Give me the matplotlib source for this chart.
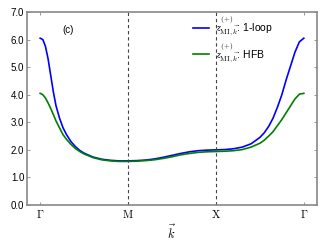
import numpy as np
import matplotlib
matplotlib.use('Agg')
import matplotlib.pyplot as plt

plt.rcParams['mathtext.fontset'] = 'cm'
plt.rcParams['font.family'] = ['Liberation Sans', 'DejaVu Sans']

# valores, por trecho (t = fracao do trecho)
t_gm = [0, 0.03, 0.06, 0.09, 0.12, 0.15, 0.18, 0.22, 0.26, 0.30, 0.35, 0.40, 0.45, 0.50, 0.60, 0.70, 0.80, 0.90, 1.0]
loop_gm = [6.05, 6.0, 5.75, 5.3, 4.7, 4.1, 3.6, 3.15, 2.8, 2.55, 2.3, 2.12, 1.98, 1.88, 1.74, 1.66, 1.62, 1.60, 1.60]
hfb_gm = [4.05, 4.0, 3.88, 3.7, 3.5, 3.28, 3.05, 2.8, 2.55, 2.38, 2.2, 2.05, 1.94, 1.85, 1.72, 1.64, 1.60, 1.58, 1.58]

t_mx = [0, 0.1, 0.2, 0.3, 0.4, 0.5, 0.6, 0.7, 0.8, 0.9, 1.0]
loop_mx = [1.60, 1.61, 1.63, 1.67, 1.73, 1.80, 1.87, 1.93, 1.97, 1.99, 2.0]
hfb_mx = [1.58, 1.59, 1.61, 1.64, 1.69, 1.75, 1.82, 1.87, 1.91, 1.93, 1.94]

t_xg = [0, 0.1, 0.2, 0.3, 0.4, 0.5, 0.55, 0.6, 0.65, 0.7, 0.75, 0.8, 0.85, 0.9, 0.95, 1.0]
loop_xg = [2.0, 2.01, 2.04, 2.1, 2.22, 2.45, 2.62, 2.85, 3.15, 3.55, 4.0, 4.55, 5.05, 5.55, 5.92, 6.05]
hfb_xg = [1.94, 1.95, 1.97, 2.01, 2.1, 2.24, 2.35, 2.5, 2.66, 2.88, 3.1, 3.35, 3.6, 3.85, 4.02, 4.05]

pontos = [r'$\Gamma$', r'$\mathrm{M}$', r'$\mathrm{X}$', r'$\Gamma$']

k = np.concatenate([np.array(t_gm), 1 + np.array(t_mx), 2 + np.array(t_xg)])
loop = np.concatenate([loop_gm, loop_mx, loop_xg])
hfb = np.concatenate([hfb_gm, hfb_mx, hfb_xg])

fig = plt.figure(figsize=(3.25, 2.45), dpi=100)
ax = fig.add_axes([27/325, 40/245, 290/325, 193/245])

ax.plot(k, loop, color='#0000ff', lw=1.2, label=r'$z^{(+)}_{\mathrm{MI},\vec{k}}$: 1-loop')
ax.plot(k, hfb, color='#007f00', lw=1.2, label=r'$z^{(+)}_{\mathrm{MI},\vec{k}}$: HFB')
for xv in [1, 2]:
    ax.axvline(xv, color='#444444', ls='--', lw=0.8, dashes=(3, 2.5))

ax.set_xlim(-0.15, 3.15)
ax.set_ylim(0, 7)
ax.set_xticks([0, 1, 2, 3])
ax.set_xticklabels(pontos, fontsize=8)
ax.set_yticks(np.arange(0, 7.5, 1.0))
ax.set_yticklabels(['%.1f' % v for v in np.arange(0, 7.5, 1.0)], fontsize=7)
ax.set_xlabel(r'$\vec{k}$', fontsize=9, labelpad=3)
ax.tick_params(direction='in', top=True, right=True, length=2.5, width=0.6,
               color='#888888', pad=2)
for s in ax.spines.values():
    s.set_color('#888888')
    s.set_linewidth(1.2)

ax.text(0.14, 0.905, '(c)', transform=ax.transAxes, fontsize=7, ha='center', va='center')
ax.legend(loc='upper left', bbox_to_anchor=(0.545, 1.035), frameon=False, fontsize=7.5,
          handlelength=1.5, handletextpad=0.6, labelspacing=0.25, borderpad=0.3)

fig.savefig('out.png', dpi=100)
